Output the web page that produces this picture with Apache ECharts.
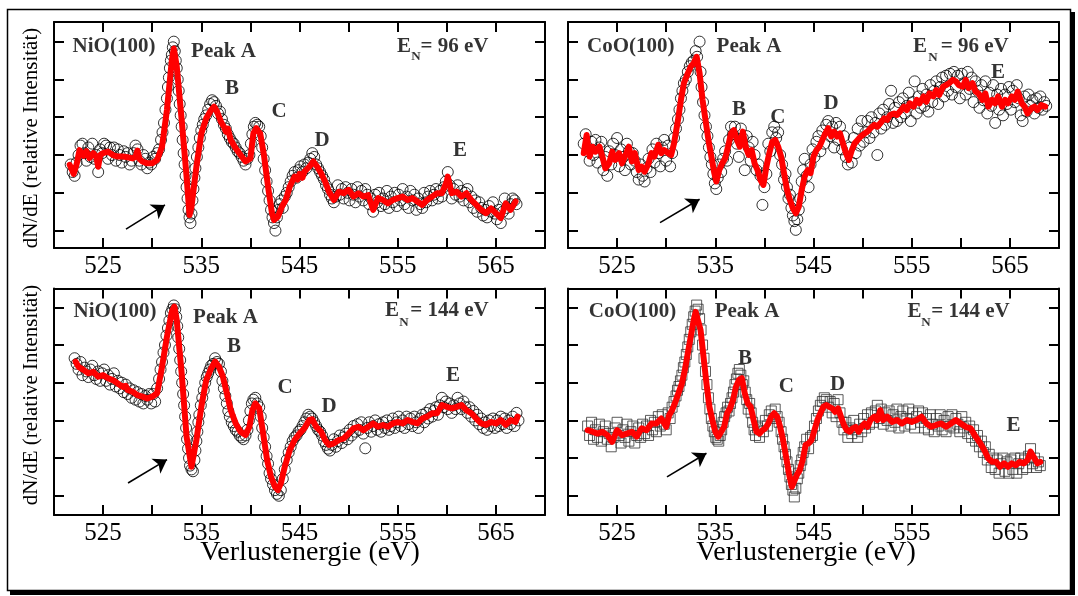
<!DOCTYPE html>
<html><head><meta charset="utf-8">
<script src="https://cdn.jsdelivr.net/npm/echarts@6/dist/echarts.min.js"></script>
<style>html,body{margin:0;padding:0;background:#fff}#c{width:1078px;height:596px}</style>
</head><body><div id="c"></div>
<script>
// ---------- DATA ----------
const xTickValues = [525,530,535,540,545,550,555,560,565];
const xLabelValues = [525,535,545,555,565];
const yTickValues = [0,1,2,3,4,5];

const nio96Line = [[521.6,1.74],[521.8,1.7],[522.0,1.5],[522.3,1.75],[522.6,2.13],[523.0,1.98],[523.3,2.1],[523.6,1.92],[524.0,2.05],[524.3,1.95],[524.5,1.69],[524.7,2.0],[525.0,2.05],[525.5,2.09],[526.0,2.0],[526.5,1.96],[527.0,1.96],[527.5,1.94],[528.0,1.91],[528.3,1.95],[528.5,2.12],[528.7,1.9],[529.0,1.83],[529.5,1.78],[530.0,1.78],[530.5,1.87],[531.0,2.22],[531.5,3.19],[532.0,4.51],[532.2,4.82],[532.5,4.34],[533.0,2.93],[533.5,1.43],[533.8,0.41],[534.0,0.63],[534.5,1.69],[535.0,2.57],[535.5,2.97],[536.0,3.19],[536.3,3.28],[536.6,3.15],[537.0,2.88],[537.3,2.75],[537.5,2.62],[537.7,2.7],[538.0,2.4],[538.5,2.18],[539.0,2.0],[539.5,1.83],[540.0,1.91],[540.3,2.57],[540.6,2.71],[541.0,2.57],[541.4,1.96],[541.8,1.16],[542.2,0.46],[542.4,0.28],[542.8,0.37],[543.2,0.63],[543.6,0.81],[544.0,1.16],[544.5,1.43],[544.8,1.35],[545.0,1.5],[545.3,1.4],[545.5,1.56],[546.0,1.69],[546.4,1.83],[546.8,1.69],[547.2,1.52],[547.6,1.3],[548.0,1.03],[548.5,0.81],[549.0,1.03],[549.5,0.99],[550.0,1.08],[550.5,0.9],[551.0,0.99],[551.5,0.9],[552.0,0.94],[552.5,0.55],[553.0,0.86],[553.5,0.81],[554.0,0.72],[554.5,0.81],[555.0,0.86],[555.5,0.9],[556.0,0.81],[556.5,0.86],[557.0,0.77],[557.5,0.68],[558.0,0.81],[558.5,0.9],[559.0,0.99],[559.5,0.99],[560.0,1.3],[560.1,1.43],[560.5,0.99],[561.0,1.03],[561.5,0.9],[562.0,0.99],[562.5,0.81],[563.0,0.68],[563.5,0.55],[564.0,0.46],[564.5,0.59],[565.0,0.46],[565.5,0.33],[566.0,0.72],[566.5,0.55],[567.0,0.77]];
const nio96Circles = [[521.7,1.75],[521.9,1.55],[522.1,1.45],[522.3,1.8],[522.5,2.0],[522.7,2.25],[522.9,2.3],[523.1,2.05],[523.3,1.85],[523.5,2.2],[523.7,1.95],[523.9,2.3],[524.1,1.9],[524.3,2.0],[524.5,1.55],[524.7,2.15],[524.9,2.05],[525.1,2.3],[525.3,2.25],[525.5,1.9],[525.7,2.2],[525.9,2.0],[526.1,2.2],[526.3,1.85],[526.5,2.15],[526.7,2.0],[526.9,1.8],[527.1,2.1],[527.3,1.95],[527.5,2.05],[527.7,1.75],[527.9,1.85],[528.1,2.05],[528.3,2.25],[528.5,2.15],[528.7,1.85],[528.9,1.75],[529.1,2.0],[529.3,1.9],[529.5,1.65],[529.7,1.8],[529.9,1.75],[530.1,1.95],[530.3,1.9],[530.5,2.05],[530.7,2.15],[530.9,2.4],[531.05,2.6],[531.2,2.85],[531.35,3.2],[531.5,3.5],[531.6,3.8],[531.7,4.05],[531.8,4.3],[531.9,4.5],[532.0,4.65],[532.1,4.85],[532.2,5.0],[532.3,4.75],[532.4,4.5],[532.5,4.3],[532.6,4.0],[532.7,3.7],[532.8,3.35],[532.9,3.05],[533.0,2.75],[533.1,2.4],[533.2,2.05],[533.3,1.75],[533.4,1.45],[533.5,1.15],[533.6,0.85],[533.7,0.55],[533.8,0.35],[533.9,0.2],[534.0,0.45],[534.1,0.8],[534.2,1.1],[534.3,1.4],[534.4,1.65],[534.55,1.95],[534.7,2.2],[534.85,2.45],[535.0,2.65],[535.15,2.8],[535.3,2.95],[535.5,3.05],[535.7,3.2],[535.9,3.35],[536.1,3.45],[536.3,3.4],[536.5,3.3],[536.7,3.1],[536.9,3.15],[537.1,2.95],[537.3,2.8],[537.5,2.7],[537.7,2.55],[537.9,2.45],[538.1,2.35],[538.3,2.3],[538.5,2.2],[538.7,2.1],[538.9,2.05],[539.1,1.95],[539.3,1.85],[539.5,1.75],[539.7,1.9],[539.9,2.0],[540.05,2.3],[540.2,2.55],[540.35,2.75],[540.5,2.85],[540.7,2.8],[540.9,2.75],[541.05,2.5],[541.2,2.2],[541.35,1.9],[541.5,1.6],[541.65,1.3],[541.8,1.05],[541.95,0.8],[542.1,0.55],[542.25,0.35],[542.4,0.2],[542.55,0.0],[542.7,0.35],[542.85,0.55],[543.0,0.7],[543.15,0.8],[543.3,0.6],[543.5,0.9],[543.7,1.0],[543.9,1.15],[544.1,1.3],[544.3,1.45],[544.5,1.55],[544.7,1.4],[544.9,1.6],[545.1,1.7],[545.3,1.55],[545.5,1.75],[545.7,1.65],[545.9,1.8],[546.1,1.9],[546.3,2.05],[546.5,1.95],[546.7,1.75],[546.9,1.65],[547.1,1.55],[547.3,1.45],[547.5,1.35],[547.7,1.2],[547.9,1.1],[548.1,0.95],[548.3,0.85],[548.5,0.75],[548.7,0.9],[548.9,1.2],[549.1,0.95],[549.3,1.1],[549.5,0.85],[549.7,1.15],[549.9,1.0],[550.1,0.8],[550.3,1.1],[550.5,0.95],[550.7,0.75],[550.9,1.15],[551.1,0.9],[551.3,1.05],[551.5,0.8],[551.7,1.1],[551.9,0.95],[552.1,0.7],[552.3,0.85],[552.5,0.5],[552.7,0.95],[552.9,0.75],[553.1,1.0],[553.3,0.65],[553.5,0.85],[553.7,0.7],[553.9,1.05],[554.1,0.6],[554.3,0.9],[554.5,0.75],[554.7,1.0],[554.9,0.65],[555.1,0.95],[555.3,0.8],[555.5,1.1],[555.7,0.7],[555.9,0.9],[556.1,0.6],[556.3,1.05],[556.5,0.8],[556.7,0.95],[556.9,0.55],[557.1,0.85],[557.3,0.7],[557.5,0.6],[557.7,1.0],[557.9,0.75],[558.1,0.9],[558.3,1.05],[558.5,0.8],[558.7,0.95],[558.9,1.1],[559.1,0.85],[559.3,1.05],[559.5,0.9],[559.7,1.15],[559.9,1.3],[560.1,1.55],[560.3,1.2],[560.5,0.85],[560.7,1.1],[560.9,0.95],[561.1,1.2],[561.3,0.9],[561.5,1.05],[561.7,0.8],[561.9,1.0],[562.1,1.1],[562.3,0.75],[562.5,0.9],[562.7,0.6],[562.9,0.8],[563.1,0.5],[563.3,0.75],[563.5,0.6],[563.7,0.4],[563.9,0.55],[564.1,0.35],[564.3,0.65],[564.5,0.5],[564.7,0.75],[564.9,0.45],[565.1,0.3],[565.3,0.55],[565.5,0.2],[565.7,0.5],[565.9,0.85],[566.1,0.6],[566.3,0.45],[566.5,0.7],[566.7,0.85],[566.9,0.8],[567.1,0.7]];

const coo96Line = [[521.6,2.05],[521.9,2.53],[522.2,1.96],[522.5,2.22],[522.8,2.09],[523.2,2.22],[523.5,1.96],[523.8,1.65],[524.2,1.78],[524.5,2.09],[524.8,1.87],[525.2,2.05],[525.5,1.78],[525.8,1.96],[526.2,2.22],[526.5,1.83],[526.8,2.05],[527.2,1.6],[527.5,1.69],[527.8,1.56],[528.2,1.78],[528.5,2.05],[528.8,1.96],[529.2,2.27],[529.5,2.05],[529.8,2.13],[530.2,2.05],[530.5,2.0],[530.8,2.31],[531.2,2.93],[531.5,3.46],[531.8,3.9],[532.2,4.16],[532.5,4.34],[532.8,4.43],[533.1,4.6],[533.4,4.16],[533.7,3.46],[534.0,2.93],[534.3,2.4],[534.6,1.96],[534.9,1.52],[535.1,1.3],[535.4,1.6],[535.7,1.78],[536.0,1.91],[536.3,2.22],[536.6,2.57],[536.9,2.66],[537.2,2.4],[537.5,2.22],[537.8,2.62],[538.1,2.22],[538.4,2.0],[538.7,2.13],[539.0,1.78],[539.3,1.6],[539.6,1.34],[539.9,1.21],[540.2,1.69],[540.5,2.05],[540.8,2.35],[541.1,2.4],[541.4,2.22],[541.7,1.96],[542.0,1.52],[542.3,1.08],[542.6,0.81],[542.9,0.59],[543.2,0.46],[543.5,0.63],[543.8,1.08],[544.1,1.43],[544.4,1.6],[544.7,1.52],[545.0,1.96],[545.3,2.13],[545.6,2.22],[545.9,2.4],[546.2,2.57],[546.5,2.71],[546.8,2.49],[547.1,2.62],[547.4,2.49],[547.7,2.57],[548.0,2.31],[548.3,2.05],[548.6,1.87],[548.9,2.13],[549.2,2.31],[549.5,2.4],[549.8,2.49],[550.2,2.57],[550.5,2.62],[550.8,2.71],[551.2,2.8],[551.5,2.75],[551.8,2.84],[552.2,2.97],[552.5,2.93],[552.8,3.06],[553.2,3.1],[553.5,3.06],[553.8,3.15],[554.2,3.28],[554.5,3.19],[554.8,3.37],[555.2,3.28],[555.5,3.46],[555.8,3.37],[556.2,3.55],[556.5,3.41],[556.8,3.63],[557.2,3.55],[557.5,3.72],[557.8,3.59],[558.2,3.81],[558.5,3.85],[558.8,3.9],[559.2,3.99],[559.5,3.95],[559.8,3.85],[560.2,3.81],[560.5,3.99],[560.8,3.77],[561.2,3.9],[561.5,3.68],[561.8,3.63],[562.2,3.46],[562.5,3.63],[562.8,3.28],[563.2,3.46],[563.5,3.37],[563.8,3.55],[564.2,3.28],[564.5,3.46],[564.8,3.37],[565.2,3.55],[565.5,3.46],[565.8,3.68],[566.2,3.37],[566.5,3.28],[566.8,3.1],[567.2,3.24],[567.5,3.28],[567.8,3.19],[568.2,3.32],[568.6,3.28]];
const coo96Circles = [[521.6,2.3],[521.8,2.55],[522.0,2.1],[522.2,1.85],[522.4,2.35],[522.6,2.0],[522.8,2.4],[523.0,1.8],[523.2,2.2],[523.4,2.35],[523.6,1.6],[523.8,1.95],[524.0,1.45],[524.2,2.1],[524.4,1.75],[524.6,2.3],[524.8,2.0],[525.0,2.45],[525.2,1.7],[525.4,2.15],[525.6,1.95],[525.8,1.6],[526.0,2.3],[526.2,2.1],[526.4,1.75],[526.6,2.05],[526.8,1.85],[527.0,1.55],[527.2,1.35],[527.4,1.75],[527.6,1.45],[527.8,1.3],[528.0,1.65],[528.2,1.9],[528.4,1.55],[528.6,2.15],[528.8,1.8],[529.0,2.3],[529.2,2.05],[529.4,1.7],[529.6,2.2],[529.8,2.4],[530.0,1.85],[530.2,2.25],[530.4,1.7],[530.6,2.05],[530.8,2.45],[531.0,2.7],[531.2,2.95],[531.35,3.2],[531.5,3.5],[531.65,3.7],[531.8,3.9],[532.0,4.0],[532.2,4.2],[532.4,4.35],[532.6,4.45],[532.8,4.5],[533.0,4.75],[533.15,4.6],[533.4,5.0],[533.5,4.2],[533.6,3.8],[533.75,3.4],[533.9,3.05],[534.05,2.75],[534.2,2.5],[534.35,2.2],[534.5,1.95],[534.65,1.75],[534.8,1.5],[534.95,1.25],[535.1,1.1],[535.25,1.4],[535.4,1.75],[535.6,1.55],[535.8,1.9],[536.0,2.1],[536.2,1.85],[536.4,2.4],[536.6,2.75],[536.8,2.55],[537.0,2.75],[537.2,2.3],[537.4,1.95],[537.6,2.7],[537.8,2.45],[538.0,1.6],[538.2,2.5],[538.4,2.2],[538.6,1.85],[538.8,2.35],[539.0,2.0],[539.2,1.6],[539.4,1.75],[539.6,1.45],[539.8,0.68],[540.0,1.15],[540.2,1.5],[540.4,2.3],[540.6,2.1],[540.8,2.6],[541.0,2.75],[541.2,2.45],[541.4,2.6],[541.6,2.0],[541.8,1.75],[542.0,1.35],[542.15,1.5],[542.3,1.15],[542.45,0.85],[542.6,0.95],[542.75,0.6],[542.9,0.4],[543.05,0.25],[543.2,0.02],[543.35,0.3],[543.5,0.55],[543.65,0.85],[543.8,1.3],[543.95,1.6],[544.1,1.9],[544.3,1.45],[544.5,1.15],[544.7,1.75],[544.9,2.15],[545.1,1.95],[545.3,2.35],[545.5,2.5],[545.7,2.1],[545.9,2.65],[546.1,2.3],[546.3,2.8],[546.5,2.9],[546.7,2.5],[546.9,2.75],[547.1,2.2],[547.3,2.85],[547.5,2.4],[547.7,2.75],[547.9,2.15],[548.1,2.5],[548.3,1.95],[548.5,1.75],[548.7,2.2],[548.9,1.8],[549.1,2.45],[549.3,2.05],[549.5,2.7],[549.7,2.25],[549.9,2.9],[550.1,2.35],[550.3,2.6],[550.5,2.9],[550.7,2.45],[550.9,3.0],[551.1,2.6],[551.3,2.85],[551.5,2.0],[551.7,3.1],[551.9,2.7],[552.1,3.2],[552.3,2.8],[552.5,3.0],[552.7,3.35],[552.9,3.7],[553.1,2.85],[553.3,3.25],[553.5,2.9],[553.7,3.4],[553.9,3.0],[554.1,3.5],[554.3,3.1],[554.5,3.3],[554.7,3.65],[554.9,2.9],[555.1,3.4],[555.3,3.95],[555.5,3.1],[555.7,3.55],[555.9,3.25],[556.1,3.75],[556.3,3.3],[556.5,3.6],[556.7,3.15],[556.9,3.85],[557.1,3.4],[557.3,3.7],[557.5,3.95],[557.7,3.35],[557.9,3.8],[558.1,4.05],[558.3,3.55],[558.5,4.1],[558.7,3.7],[558.9,4.15],[559.1,3.6],[559.3,4.2],[559.5,3.8],[559.7,4.1],[559.9,3.5],[560.1,4.15],[560.3,3.9],[560.5,3.6],[560.7,4.2],[560.9,3.75],[561.1,4.05],[561.3,3.4],[561.5,3.95],[561.7,3.7],[561.9,3.25],[562.1,3.85],[562.3,3.45],[562.5,3.95],[562.7,3.1],[562.9,3.65],[563.1,3.3],[563.3,3.85],[563.5,2.85],[563.7,3.6],[563.9,3.2],[564.1,3.75],[564.3,3.05],[564.5,3.6],[564.7,3.35],[564.9,3.8],[565.1,3.2],[565.3,3.7],[565.5,3.4],[565.7,3.85],[565.9,3.5],[566.1,3.05],[566.3,2.9],[566.5,3.55],[566.7,3.15],[566.9,3.6],[567.1,3.3],[567.3,3.45],[567.5,3.1],[567.7,3.5],[567.9,3.25],[568.1,3.55],[568.3,3.2],[568.5,3.4],[568.7,3.3]];

const nio144Line = [[522.2,3.56],[522.5,3.42],[523.0,3.34],[523.5,3.25],[524.0,3.29],[524.5,3.16],[525.0,3.2],[525.5,3.12],[526.0,3.07],[526.5,2.98],[527.0,2.89],[527.3,2.92],[527.5,2.81],[528.0,2.76],[528.5,2.67],[529.0,2.63],[529.5,2.58],[530.0,2.63],[530.5,2.72],[531.0,3.42],[531.5,4.22],[532.0,4.88],[532.25,5.02],[532.5,4.66],[533.0,3.25],[533.5,1.57],[534.0,0.77],[534.2,0.77],[534.5,1.48],[535.0,2.36],[535.5,3.07],[536.0,3.38],[536.4,3.56],[536.8,3.42],[537.2,3.16],[537.6,2.72],[538.0,2.27],[538.5,1.92],[539.0,1.7],[539.5,1.61],[539.9,1.83],[540.2,2.27],[540.5,2.45],[540.9,2.32],[541.3,1.65],[541.7,0.95],[542.1,0.5],[542.5,0.24],[542.8,0.15],[543.1,0.33],[543.5,0.77],[544.0,1.21],[544.5,1.48],[545.0,1.65],[545.5,1.79],[546.0,2.01],[546.3,2.03],[546.7,1.83],[547.2,1.7],[547.6,1.48],[548.0,1.35],[548.5,1.39],[549.0,1.48],[549.5,1.52],[550.0,1.65],[550.5,1.79],[551.0,1.83],[551.5,1.74],[552.0,1.83],[552.5,1.92],[553.0,1.83],[553.5,1.88],[554.0,1.83],[554.5,1.92],[555.0,1.96],[555.5,1.92],[556.0,2.01],[556.5,1.96],[557.0,1.92],[557.5,2.05],[558.0,2.1],[558.5,2.19],[559.0,2.19],[559.5,2.41],[560.0,2.36],[560.5,2.32],[561.0,2.36],[561.5,2.41],[562.0,2.27],[562.5,2.19],[563.0,2.05],[563.5,1.92],[564.0,1.88],[564.5,1.96],[565.0,1.92],[565.5,2.01],[566.0,1.88],[566.5,2.01],[567.0,1.96],[567.2,2.1]];
const nio144Circles = [[522.1,3.65],[522.3,3.5],[522.5,3.35],[522.7,3.55],[522.9,3.2],[523.1,3.4],[523.3,3.3],[523.5,3.15],[523.7,3.35],[523.9,3.45],[524.1,3.2],[524.3,3.1],[524.5,3.3],[524.7,3.05],[524.9,3.25],[525.1,3.35],[525.3,3.05],[525.5,3.2],[525.7,2.95],[525.9,3.1],[526.1,3.25],[526.3,2.9],[526.5,3.05],[526.7,2.85],[526.9,3.0],[527.1,2.75],[527.3,2.95],[527.5,2.7],[527.7,2.85],[527.9,2.6],[528.1,2.8],[528.3,2.55],[528.5,2.75],[528.7,2.5],[528.9,2.7],[529.1,2.45],[529.3,2.65],[529.5,2.55],[529.7,2.7],[529.9,2.45],[530.1,2.7],[530.3,2.5],[530.5,2.85],[530.7,3.1],[530.85,3.35],[531.0,3.55],[531.15,3.8],[531.3,4.0],[531.45,4.25],[531.6,4.45],[531.75,4.65],[531.9,4.85],[532.05,4.95],[532.2,5.05],[532.35,4.95],[532.45,4.75],[532.55,4.5],[532.65,4.2],[532.75,3.9],[532.85,3.6],[532.95,3.3],[533.05,3.0],[533.15,2.7],[533.25,2.4],[533.35,2.1],[533.45,1.8],[533.55,1.5],[533.65,1.25],[533.75,1.0],[533.85,0.8],[534.0,0.7],[534.15,0.65],[534.3,0.95],[534.4,1.2],[534.5,1.45],[534.6,1.7],[534.7,1.95],[534.8,2.15],[534.95,2.4],[535.1,2.6],[535.25,2.8],[535.4,3.0],[535.55,3.15],[535.7,3.25],[535.85,3.35],[536.0,3.45],[536.2,3.5],[536.4,3.65],[536.6,3.55],[536.8,3.5],[537.0,3.3],[537.15,3.05],[537.3,2.85],[537.45,2.65],[537.6,2.45],[537.75,2.25],[537.9,2.1],[538.1,1.95],[538.3,1.85],[538.5,1.75],[538.7,1.7],[538.9,1.6],[539.1,1.55],[539.3,1.5],[539.5,1.6],[539.7,1.75],[539.85,2.0],[540.0,2.25],[540.15,2.45],[540.3,2.55],[540.5,2.6],[540.7,2.45],[540.9,2.35],[541.05,2.1],[541.2,1.8],[541.35,1.55],[541.5,1.3],[541.65,1.05],[541.8,0.85],[541.95,0.6],[542.1,0.45],[542.3,0.3],[542.5,0.15],[542.7,0.05],[542.9,0.0],[543.1,0.15],[543.3,0.45],[543.5,0.7],[543.7,0.95],[543.9,1.15],[544.1,1.3],[544.3,1.45],[544.5,1.55],[544.7,1.6],[544.9,1.7],[545.1,1.75],[545.3,1.85],[545.5,1.95],[545.7,2.05],[545.9,2.15],[546.1,2.1],[546.3,2.05],[546.5,1.95],[546.7,1.85],[546.9,1.75],[547.1,1.7],[547.3,1.6],[547.5,1.45],[547.7,1.35],[547.9,1.25],[548.1,1.2],[548.3,1.35],[548.5,1.5],[548.7,1.3],[548.9,1.45],[549.1,1.6],[549.3,1.4],[549.5,1.55],[549.7,1.65],[549.9,1.5],[550.1,1.75],[550.3,1.6],[550.5,1.85],[550.7,1.7],[550.9,1.9],[551.1,1.75],[551.3,1.95],[551.5,1.65],[551.7,1.26],[551.9,1.8],[552.1,1.95],[552.3,1.7],[552.5,1.85],[552.7,2.0],[552.9,1.75],[553.1,1.9],[553.3,1.7],[553.5,1.95],[553.7,1.8],[553.9,2.0],[554.1,1.75],[554.3,1.85],[554.5,2.05],[554.7,1.8],[554.9,1.95],[555.1,2.1],[555.3,1.85],[555.5,2.0],[555.7,1.8],[555.9,2.1],[556.1,1.9],[556.3,2.05],[556.5,1.85],[556.7,2.1],[556.9,1.95],[557.1,1.8],[557.3,2.05],[557.5,2.15],[557.7,1.95],[557.9,2.2],[558.1,2.05],[558.3,2.3],[558.5,2.1],[558.7,2.25],[558.9,2.35],[559.1,2.15],[559.3,2.4],[559.5,2.6],[559.7,2.35],[559.9,2.5],[560.1,2.3],[560.3,2.45],[560.5,2.2],[560.7,2.4],[560.9,2.3],[561.1,2.6],[561.3,2.45],[561.5,2.3],[561.7,2.5],[561.9,2.35],[562.1,2.2],[562.3,2.35],[562.5,2.1],[562.7,2.25],[562.9,2.0],[563.1,2.15],[563.3,1.9],[563.5,2.05],[563.7,1.8],[563.9,1.95],[564.1,1.75],[564.3,2.0],[564.5,1.85],[564.7,2.05],[564.9,1.8],[565.1,2.0],[565.3,1.85],[565.5,2.1],[565.7,1.9],[565.9,2.05],[566.1,1.8],[566.3,2.0],[566.5,1.9],[566.7,2.1],[566.9,1.85],[567.1,2.2],[567.3,2.0]];

const coo144Line = [[522.0,1.74],[522.5,1.7],[523.0,1.65],[523.5,1.7],[524.0,1.61],[524.5,1.43],[525.0,1.74],[525.5,1.61],[526.0,1.65],[526.5,1.7],[527.0,1.57],[527.5,1.79],[528.0,1.74],[528.5,1.92],[529.0,1.92],[529.5,2.05],[530.0,1.83],[530.3,2.14],[530.6,2.27],[531.0,2.54],[531.3,2.76],[531.6,2.98],[531.9,3.34],[532.2,3.78],[532.5,4.22],[532.8,4.66],[533.0,4.88],[533.2,4.88],[533.5,4.4],[533.8,3.69],[534.1,2.98],[534.4,2.36],[534.7,2.01],[535.0,1.7],[535.3,1.57],[535.6,1.7],[535.9,1.83],[536.2,2.19],[536.5,2.32],[536.8,2.54],[537.1,2.89],[537.4,3.07],[537.7,3.12],[538.0,2.72],[538.3,2.45],[538.6,2.36],[538.9,2.01],[539.2,1.7],[539.5,1.65],[539.8,1.74],[540.1,1.79],[540.4,1.92],[540.7,2.1],[541.0,2.19],[541.3,2.1],[541.6,1.83],[541.9,1.48],[542.2,1.04],[542.5,0.59],[542.8,0.24],[543.0,0.19],[543.3,0.55],[543.6,0.68],[543.9,0.95],[544.2,1.35],[544.5,1.39],[544.8,1.48],[545.1,1.74],[545.4,2.01],[545.7,2.19],[546.0,2.36],[546.3,2.41],[546.6,2.36],[546.9,2.32],[547.2,2.23],[547.5,2.32],[547.8,2.1],[548.1,1.88],[548.4,1.74],[548.7,1.7],[549.0,1.79],[549.3,1.83],[549.6,1.7],[549.9,1.83],[550.2,1.92],[550.5,1.83],[550.8,2.01],[551.2,2.1],[551.5,2.01],[551.8,2.27],[552.1,2.01],[552.5,2.1],[553.0,1.96],[553.5,2.01],[554.0,1.92],[554.5,2.01],[555.0,1.96],[555.5,2.01],[556.0,2.1],[556.5,1.92],[557.0,1.83],[557.5,1.88],[558.0,1.92],[558.5,1.83],[559.0,1.92],[559.5,2.01],[560.0,1.92],[560.5,1.83],[561.0,1.79],[561.5,1.57],[562.0,1.39],[562.4,1.21],[562.8,0.99],[563.2,0.9],[563.6,0.9],[564.0,0.77],[564.4,0.86],[564.8,0.77],[565.2,0.86],[565.6,0.81],[566.0,0.9],[566.4,0.86],[566.8,0.95],[567.1,1.17],[567.4,1.04],[567.8,0.86],[568.1,0.9]];
const coo144Squares = [[522.0,1.85],[522.2,1.6],[522.4,1.95],[522.6,1.5],[522.8,1.75],[523.0,1.55],[523.2,1.9],[523.4,1.45],[523.6,1.7],[523.8,1.85],[524.0,1.5],[524.2,1.65],[524.4,1.3],[524.6,1.55],[524.8,1.8],[525.0,1.95],[525.2,1.6],[525.4,1.4],[525.6,1.75],[525.8,1.55],[526.0,1.9],[526.2,1.45],[526.4,1.7],[526.6,1.85],[526.8,1.4],[527.0,1.6],[527.2,1.8],[527.4,1.55],[527.6,1.9],[527.8,1.65],[528.0,1.85],[528.2,1.6],[528.4,2.0],[528.6,1.75],[528.8,1.95],[529.0,1.7],[529.2,2.1],[529.4,1.85],[529.6,2.15],[529.8,1.9],[530.0,1.75],[530.2,2.2],[530.4,2.05],[530.6,2.35],[530.8,2.5],[531.0,2.65],[531.15,2.8],[531.3,2.9],[531.45,3.05],[531.6,3.2],[531.75,3.4],[531.9,3.55],[532.05,3.75],[532.2,3.95],[532.35,4.15],[532.5,4.35],[532.65,4.55],[532.8,4.75],[532.95,4.9],[533.1,5.06],[533.25,4.95],[533.4,4.7],[533.55,4.4],[533.7,4.0],[533.85,3.65],[534.0,3.3],[534.15,2.95],[534.3,2.6],[534.45,2.3],[534.6,2.05],[534.75,1.85],[534.9,1.7],[535.05,1.55],[535.2,1.5],[535.35,1.45],[535.5,1.6],[535.65,1.75],[535.8,1.95],[535.95,2.1],[536.1,2.2],[536.25,2.35],[536.4,2.25],[536.55,2.45],[536.7,2.6],[536.85,2.75],[537.0,2.95],[537.15,3.1],[537.3,3.25],[537.45,3.35],[537.6,3.2],[537.75,2.95],[537.9,3.05],[538.05,2.75],[538.2,2.55],[538.35,2.3],[538.5,2.45],[538.65,2.2],[538.8,1.95],[538.95,1.75],[539.1,1.6],[539.3,1.8],[539.5,1.55],[539.7,1.85],[539.9,1.7],[540.1,2.0],[540.3,1.85],[540.5,2.15],[540.7,2.25],[540.9,2.05],[541.1,2.3],[541.3,2.1],[541.5,1.95],[541.7,1.7],[541.85,1.5],[542.0,1.3],[542.15,1.1],[542.3,0.9],[542.45,0.7],[542.6,0.5],[542.75,0.3],[542.9,0.15],[543.05,-0.03],[543.2,0.2],[543.35,0.45],[543.5,0.6],[543.65,0.8],[543.8,0.95],[543.95,1.15],[544.1,1.3],[544.3,1.5],[544.5,1.25],[544.7,1.55],[544.9,1.6],[545.1,1.85],[545.3,2.05],[545.5,2.25],[545.7,2.4],[545.9,2.5],[546.1,2.6],[546.3,2.55],[546.5,2.35],[546.7,2.5],[546.9,2.2],[547.1,2.45],[547.3,2.1],[547.5,2.55],[547.7,2.2],[547.9,1.95],[548.1,1.75],[548.3,1.95],[548.5,1.55],[548.7,1.8],[548.9,1.65],[549.1,2.0],[549.3,1.75],[549.5,1.55],[549.7,1.9],[549.9,1.7],[550.1,2.05],[550.3,1.8],[550.5,2.15],[550.7,1.9],[550.9,2.2],[551.1,1.95],[551.3,2.25],[551.5,2.4],[551.7,2.05],[551.9,2.3],[552.1,1.9],[552.3,2.2],[552.5,2.0],[552.7,2.25],[552.9,1.85],[553.1,2.15],[553.3,1.95],[553.5,2.3],[553.7,1.8],[553.9,2.1],[554.1,2.25],[554.3,1.85],[554.5,2.05],[554.7,2.3],[554.9,1.9],[555.1,2.2],[555.3,1.8],[555.5,2.1],[555.7,2.25],[555.9,1.95],[556.1,2.2],[556.3,1.8],[556.5,2.05],[556.7,1.75],[556.9,2.15],[557.1,1.9],[557.3,1.7],[557.5,2.05],[557.7,1.85],[557.9,2.15],[558.1,1.75],[558.3,2.0],[558.5,1.7],[558.7,2.1],[558.9,1.85],[559.1,2.15],[559.3,1.8],[559.5,2.05],[559.7,1.9],[559.9,1.7],[560.1,2.1],[560.3,1.8],[560.5,1.95],[560.7,1.65],[560.9,1.85],[561.1,1.55],[561.3,1.75],[561.5,1.45],[561.7,1.6],[561.9,1.3],[562.1,1.45],[562.3,1.15],[562.5,1.3],[562.7,0.95],[562.9,1.1],[563.1,0.75],[563.3,1.0],[563.5,0.7],[563.7,0.95],[563.9,0.6],[564.1,0.85],[564.3,1.0],[564.5,0.65],[564.7,0.9],[564.9,0.6],[565.1,0.95],[565.3,0.7],[565.5,1.0],[565.7,0.6],[565.9,0.85],[566.1,1.0],[566.3,0.7],[566.5,0.95],[566.7,0.75],[566.9,1.05],[567.1,1.25],[567.3,0.85],[567.5,1.0],[567.7,0.75],[567.9,0.9],[568.1,0.8]];

// annotation texts with anchor in data coordinates [text, energy, value]
const nio96Notes = [["NiO(100)",526.11,4.86],["Peak A",537.26,4.73],["E",555.64,4.86],["N",556.86,4.61],["= 96 eV",560.78,4.86],["B",538.13,3.77],["C",542.91,3.14],["D",547.29,2.37],["E",561.34,2.13]];
const coo96Notes = [["CoO(100)",526.39,4.86],["Peak A",538.43,4.86],["E",555.85,4.86],["N",557.17,4.58],["= 96 eV",561.41,4.86],["B",537.41,3.19],["C",541.38,2.99],["D",546.78,3.35],["E",563.78,4.17]];
const nio144Notes = [["NiO(100)",526.21,4.88],["Peak A",537.46,4.74],["E",554.42,4.92],["N",555.64,4.6],["= 144 eV",560.27,4.92],["B",538.33,3.95],["C",543.52,2.88],["D",548.0,2.38],["E",560.63,3.2]];
const coo144Notes = [["CoO(100)",526.57,4.89],["Peak A",538.23,4.9],["E",555.28,4.9],["N",556.46,4.6],["= 144 eV",560.99,4.9],["B",538.02,3.63],["C",542.24,2.9],["D",547.44,2.95],["E",565.36,1.86]];
const nio96Arrow = [[527.33,0.04],[531.3,0.68]];
const coo96Arrow = [[529.37,0.21],[533.4,0.83]];
const nio144Arrow = [[527.54,0.34],[531.51,0.96]];
const coo144Arrow = [[530.08,0.5],[534.1,1.13]];

const xTitle = "Verlustenergie (eV)";
const yTitle = "dN/dE (relative Intensität)";

// ---------- CHART ----------
const SERIF = "Liberation Serif";
const grids = [
  {left:54, top:22, width:491, height:226},
  {left:568, top:22, width:491, height:226},
  {left:54, top:288.5, width:491, height:226.5},
  {left:568, top:288.5, width:491, height:226.5}
];
const yRanges = [[-0.46,5.52],[-0.46,5.52],[-0.51,5.5],[-0.51,5.5]];

const xAxes = [], yAxes = [];
for (let pass = 0; pass < 2; pass++) {
  for (let i = 0; i < 4; i++) {
    xAxes.push({
      type:'value', gridIndex:i, min:520, max:570, position: pass===0?'bottom':'top',
      axisLine:{show:true, onZero:false, lineStyle:{color:'#000', width:2}},
      axisTick:{show:true, inside:true, length:10, lineStyle:{color:'#000', width:2}, customValues:xTickValues},
      axisLabel:{show: pass===0, customValues:xLabelValues, color:'#000', fontFamily:SERIF, fontSize:25, margin:6},
      splitLine:{show:false}
    });
    yAxes.push({
      type:'value', gridIndex:i, min:yRanges[i][0], max:yRanges[i][1], position: pass===0?'left':'right',
      axisLine:{show:true, onZero:false, lineStyle:{color:'#000', width:2}},
      axisTick:{show:true, inside:true, length:10, lineStyle:{color:'#000', width:2}, customValues:yTickValues},
      axisLabel:{show:false},
      splitLine:{show:false}
    });
  }
}

const panels = [
  {pts:nio96Circles, line:nio96Line, notes:nio96Notes, arrow:nio96Arrow, sym:'circle'},
  {pts:coo96Circles, line:coo96Line, notes:coo96Notes, arrow:coo96Arrow, sym:'circle'},
  {pts:nio144Circles, line:nio144Line, notes:nio144Notes, arrow:nio144Arrow, sym:'circle'},
  {pts:coo144Squares, line:coo144Line, notes:coo144Notes, arrow:coo144Arrow, sym:'rect'}
];

const series = [];
panels.forEach((p, i) => {
  series.push({
    type:'scatter', xAxisIndex:i, yAxisIndex:i, data:p.pts, z:2,
    symbol:p.sym, symbolSize: p.sym==='rect' ? 10 : 11,
    itemStyle:{color:'rgba(255,255,255,0)', borderColor: p.sym==='rect' ? '#333' : '#000', borderWidth:1},
    silent:true
  });
  series.push({
    type:'line', xAxisIndex:i, yAxisIndex:i, data:p.line, z:3, showSymbol:false, symbol:'none',
    lineStyle:{color:'#ff0000', width:6, cap:'round', join:'round'}, silent:true
  });
  series.push({
    type:'scatter', xAxisIndex:i, yAxisIndex:i, z:5, symbolSize:1,
    itemStyle:{color:'rgba(0,0,0,0)'}, silent:true,
    data:p.notes.map(n => ({name:n[0], value:[n[1], n[2]],
      label:{fontSize: n[0]==='N' ? 13 : 21}})),
    label:{show:true, position:'inside', formatter:'{b}', color:'#000',
      fontFamily:SERIF, fontWeight:'bold', fontSize:21},
    markLine:{silent:true, animation:false, symbol:['none','arrow'], symbolSize:13,
      lineStyle:{color:'#000', width:1.6, type:'solid'}, label:{show:false},
      data:[[{coord:p.arrow[0]},{coord:p.arrow[1]}]]}
  });
});

function txt(x, y, text, size, rot) {
  return {type:'text', x:x, y:y, rotation:rot||0, z:20, silent:true,
    style:{text:text, fill:'#000', font: size+'px "'+SERIF+'"',
      textAlign:'center', textVerticalAlign:'middle', align:'center', verticalAlign:'middle'}};
}

const graphic = [
  {type:'rect', silent:true, z:-1, shape:{x:7.5, y:9.5, width:1063, height:581},
    style:{fill:'none', stroke:'#000', lineWidth:1.5}},
  {type:'rect', silent:true, z:-1, shape:{x:1071, y:12, width:4, height:583}, style:{fill:'#000'}},
  {type:'rect', silent:true, z:-1, shape:{x:10, y:591, width:1065, height:4}, style:{fill:'#000'}},
  txt(310, 553, xTitle, 28),
  txt(806, 553, xTitle, 28),
  txt(31, 138, yTitle, 21, Math.PI/2),
  txt(31, 395, yTitle, 21, Math.PI/2)
];

const chart = echarts.init(document.getElementById('c'), null, {renderer:'canvas'});
chart.setOption({
  backgroundColor:'#fff', animation:false,
  grid:grids, xAxis:xAxes, yAxis:yAxes, series:series, graphic:graphic
});
</script></body></html>
